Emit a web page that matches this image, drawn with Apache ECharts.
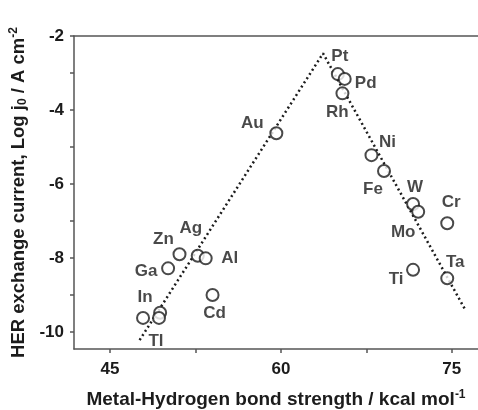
<!DOCTYPE html>
<html>
<head>
<meta charset="utf-8">
<script src="https://cdn.jsdelivr.net/npm/echarts@6/dist/echarts.min.js"></script>
<style>
  html, body { margin: 0; padding: 0; background: #fff; }
  #chart { width: 478px; height: 410px; }
</style>
</head>
<body>
<div id="chart"></div>
<script>
// metals, bond strength (kcal/mol) and log j0
const metals = ["Pt", "Pd", "Rh", "Au", "Ni", "Fe", "W", "Mo", "Cr", "Ta", "Ti",
  "Zn", "Ag", "Al", "Ga", "Cd", "In", "Tl", ""];
const bondStrength = [65.0, 65.6, 65.4, 59.6, 67.95, 69.05, 71.6, 72.05, 74.6, 74.6, 71.6,
  51.1, 52.7, 53.4, 50.1, 54.0, 49.4, 49.3, 47.9];
const logJ0 = [-3.03, -3.16, -3.55, -4.63, -5.22, -5.65, -6.54, -6.75, -7.06, -8.55, -8.32,
  -7.9, -7.94, -8.01, -8.28, -9.0, -9.48, -9.62, -9.62];

// volcano guide line
const trendX = [47.6, 63.7, 76.2];
const trendY = [-10.22, -2.47, -9.41];

const xTicks = [45, 60, 75];
const xMinorTicks = [45, 52.5, 60, 67.5, 75];
const yTicks = [-10, -8, -6, -4, -2];
const yMinorTicks = [-10, -9, -8, -7, -6, -5, -4, -3, -2];

// label offsets (px) relative to each circle
const labelOffset = {
  Pt: [2, -18], Pd: [21, 4], Rh: [-5, 19], Au: [-24, -10], Ni: [16, -13],
  Fe: [-11, 18], W: [2, -17], Mo: [-15, 21], Cr: [4, -21], Ta: [8, -16],
  Ti: [-17, 9], Zn: [-16, -15], Ag: [-7, -27], Al: [24, 0], Ga: [-22, 3],
  Cd: [2, 18], In: [-15, -15], Tl: [-3, 23]
};

const ink = "#1c1c1c";
const font = "Liberation Sans";

const chart = echarts.init(document.getElementById("chart"));

const axisCommon = {
  axisLine: { show: true, onZero: false, lineStyle: { color: "#555", width: 1.5 } },
  splitLine: { show: false },
  axisLabel: { color: ink, fontFamily: font, fontWeight: "bold", fontSize: 17 }
};

chart.setOption({
  animation: false,
  grid: { left: 74, top: 36, right: 0, bottom: 61, outerBoundsMode: "none" },
  xAxis: [
    {
      ...axisCommon,
      type: "value",
      min: 41.84,
      max: 77.3,
      axisTick: { show: true, length: 4, customValues: xMinorTicks, lineStyle: { color: "#555", width: 1.5 } },
      axisLabel: { ...axisCommon.axisLabel, customValues: xTicks, margin: 12 },
      name: "Metal-Hydrogen bond strength / kcal mol{sup|-1}",
      nameLocation: "middle",
      nameGap: 40,
      nameTextStyle: {
        color: ink, fontFamily: font, fontWeight: "bold", fontSize: 19,
        rich: {
          sup: { color: ink, fontFamily: font, fontWeight: "bold", fontSize: 12, verticalAlign: "bottom", padding: [0, 0, 10, 0] }
        }
      }
    },
    {
      type: "value",
      position: "top",
      min: 41.84,
      max: 77.3,
      axisLine: { show: true, onZero: false, lineStyle: { color: "#555", width: 1.5 } },
      axisTick: { show: false },
      axisLabel: { show: false },
      splitLine: { show: false }
    }
  ],
  yAxis: {
    ...axisCommon,
    type: "value",
    min: -10.46,
    max: -2,
    axisTick: { show: true, length: 4, customValues: yMinorTicks, lineStyle: { color: "#555", width: 1.5 } },
    axisLabel: { ...axisCommon.axisLabel, customValues: yTicks, margin: 10 },
    name: "HER exchange current, Log j{sub|0} / A cm{sup|-2}",
    nameLocation: "middle",
    nameRotate: 90,
    nameGap: 44,
    nameTextStyle: {
      color: ink, fontFamily: font, fontWeight: "bold", fontSize: 18.5,
      rich: {
        sub: { color: ink, fontFamily: font, fontWeight: "bold", fontSize: 12, verticalAlign: "top", padding: [9, 0, 0, 0] },
        sup: { color: ink, fontFamily: font, fontWeight: "bold", fontSize: 12, verticalAlign: "bottom", padding: [0, 0, 10, 0] }
      }
    }
  },
  series: [
    {
      type: "line",
      data: trendX.map((x, i) => [x, trendY[i]]),
      symbol: "none",
      lineStyle: { color: ink, width: 2.5, type: [2, 3] },
      z: 1
    },
    {
      type: "scatter",
      symbol: "emptyCircle",
      symbolSize: 12,
      itemStyle: { color: ink, borderColor: ink, borderWidth: 2.3 },
      data: metals.map((m, i) => ({
        value: [bondStrength[i], logJ0[i]],
        label: {
          show: m !== "",
          formatter: m,
          position: "inside",
          offset: labelOffset[m] || [0, 0],
          color: ink,
          fontFamily: font,
          fontWeight: "bold",
          fontSize: 17
        }
      })),
      z: 2
    }
  ]
});
</script>
</body>
</html>
